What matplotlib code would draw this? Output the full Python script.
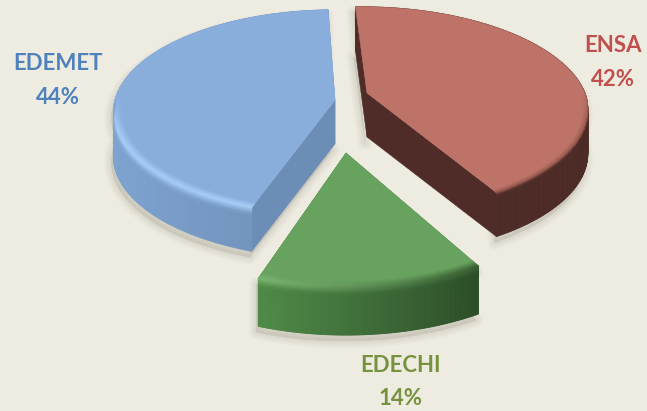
import numpy as np
import matplotlib
matplotlib.use("Agg")
import matplotlib.pyplot as plt
from matplotlib.collections import PolyCollection
from matplotlib.colors import to_rgb

plt.rcParams['font.family'] = ['Lato', 'DejaVu Sans']

labels = ["ENSA", "EDECHI", "EDEMET"]
shares = [42, 14, 44]

BG = "#EEECE1"
START = 92.0
geom = {
    "ENSA":   dict(ap=(367, 93),  A=218, B=100, p=.16, h=44, sh=-5, bev=.02, drop=3),
    "EDECHI": dict(ap=(346, 153), A=232, B=118, p=.12, h=48, sh=0, bev=.04, drop=8),
    "EDEMET": dict(ap=(335, 100), A=220, B=101, p=.12, h=44, sh=0, bev=.04, drop=8),
}
style = {
    "ENSA":   dict(top="#BD7367", face="#4F2C27", rimL="#4F2C27", rimR="#4C2A25", hi="#9A5C52", hi2="#9A5C52"),
    "EDECHI": dict(top="#68A25F", face="#4A8044", rimL="#4F8B48", rimR="#2C4D28", hi="#7DB873", hi2="#3C6436"),
    "EDEMET": dict(top="#8AAEDC", face="#6C8DB6", rimL="#7EA3D0", rimR="#6C8CB3", hi="#A8D0F8", hi2="#A8D0F8"),
}
text_pos = {
    "ENSA": ((613, 46), (613, 79), "#C0504D"),
    "EDECHI": ((401, 365), (401, 398), "#76923C"),
    "EDEMET": ((58, 64), (58, 97), "#4F81BD"),
}

W, H = 647, 411
fig = plt.figure(figsize=(W / 100, H / 100), dpi=100, facecolor=BG)
ax = fig.add_axes([0, 0, 1, 1])
ax.set_xlim(0, W)
ax.set_ylim(H, 0)
ax.axis("off")


def proj(g, r, th):
    X, Y = r * np.cos(th), r * np.sin(th)
    w = 1 + g["p"] * Y
    return g["ap"][0] + g["A"] * X / w + g["sh"] * np.maximum(Y, 0), g["ap"][1] - g["B"] * Y / w


def mix(a, b, t):
    a, b = np.array(to_rgb(a)), np.array(to_rgb(b))
    return tuple(a + (b - a) * t)


def draw(name, th0, th1, z):
    g, s = geom[name], style[name]
    th = np.radians(np.linspace(th0, th1, 180))
    x, y = proj(g, 1.0, th)
    h = g["h"]
    ax0, ay0 = g["ap"]

    # soft shadow, lower part only
    ox = np.r_[ax0, x, x[::-1], ax0]
    oy = np.r_[ay0 + h, y + h, y[::-1], ay0 + h]
    for i in range(7):
        ax.fill(ox - 2, oy + 6, fc="#555040", ec="#555040", lw=1 + i * 1.6,
                alpha=.014, zorder=z, joinstyle="round")

    # cut faces
    for px, py in ((x[0], y[0]), (x[-1], y[-1])):
        ax.fill([px, ax0, ax0, px], [py, ay0, ay0 + h, py + h], fc=s["face"], ec=s["face"], lw=.4, zorder=z + 1)

    # outer rim
    xmin, xmax = x.min(), x.max()
    polys, cols = [], []
    for i in range(len(th) - 1):
        polys.append([(x[i], y[i]), (x[i + 1], y[i + 1]), (x[i + 1], y[i + 1] + h), (x[i], y[i] + h)])
        cols.append(mix(s["rimL"], s["rimR"], (x[i] - xmin) / (xmax - xmin)))
    ax.add_collection(PolyCollection(polys, facecolors=cols, edgecolors=cols, linewidths=.6, zorder=z + 2))

    # top surface
    ax.fill(np.r_[ax0, x], np.r_[ay0, y], fc=s["top"], ec=s["top"], lw=.4, zorder=z + 3)

    # bevel band where the rim faces the viewer
    rs = np.linspace(1 - g["bev"], 1.0, 7)
    drops = np.linspace(0, g["drop"], 5)
    polys, cols = [], []
    for i in range(len(th) - 1):
        sy = np.sin(th[i])
        wt = np.clip((.02 - sy) / .3, 0, 1)
        if wt <= 0:
            continue
        frac = (x[i] - xmin) / (xmax - xmin)
        hi = mix(s["hi"], s["hi2"], frac)
        rimc = mix(s["rimL"], s["rimR"], frac)
        for j in range(len(rs) - 1):
            xa, ya = proj(g, rs[j], th[i])
            xb, yb = proj(g, rs[j], th[i + 1])
            xc, yc = proj(g, rs[j + 1], th[i + 1])
            xd, yd = proj(g, rs[j + 1], th[i])
            polys.append([(xa, ya), (xb, yb), (xc, yc), (xd, yd)])
            cols.append(mix(s["top"], hi, wt * (j + .5) / (len(rs) - 1)))
        for j in range(len(drops) - 1):
            polys.append([(x[i], y[i] + drops[j]), (x[i + 1], y[i + 1] + drops[j]),
                          (x[i + 1], y[i + 1] + drops[j + 1]), (x[i], y[i] + drops[j + 1])])
            grad = mix(hi, rimc, (j + .5) / (len(drops) - 1))
            base = mix(s["top"], rimc, (j + .5) / (len(drops) - 1))
            cols.append(mix(base, grad, wt))
    ax.add_collection(PolyCollection(polys, facecolors=cols, edgecolors=cols, linewidths=.5, zorder=z + 4))


angle = START
for k, (name, share) in enumerate(zip(labels, shares)):
    sweep = 360 * share / sum(shares)
    draw(name, angle, angle - sweep, 10 * (k + 1) if name != "EDECHI" else 40)
    angle -= sweep

for name, share in zip(labels, shares):
    p1, p2, c = text_pos[name]
    ax.text(*p1, name, color=c, fontsize=16, fontweight="bold", ha="center", va="center", zorder=60)
    ax.text(*p2, f"{share}%", color=c, fontsize=16, fontweight="bold", ha="center", va="center", zorder=60)

fig.savefig("out.png", dpi=100, facecolor=BG)
